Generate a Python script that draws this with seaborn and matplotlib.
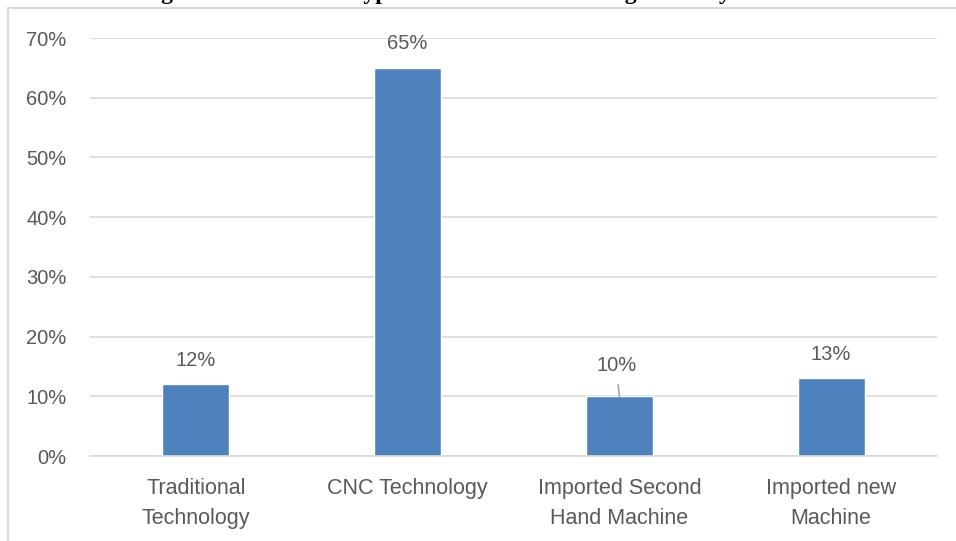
import matplotlib
matplotlib.use("Agg")
import matplotlib.pyplot as plt
import seaborn as sns
import pandas as pd
from matplotlib.patches import Rectangle

categories = ["Traditional\nTechnology", "CNC Technology",
              "Imported Second\nHand Machine", "Imported new\nMachine"]
shares = [12, 65, 10, 13]
y_ticks = [0, 10, 20, 30, 40, 50, 60, 70]
y_tick_labels = ["0%", "10%", "20%", "30%", "40%", "50%", "60%", "70%"]
title_text = "Figure 4.2: Machine Type used in Manufacturing Industry"

df = pd.DataFrame({"category": categories, "share": shares})

sns.set_theme(style="white")
plt.rcParams["font.family"] = ["Liberation Sans", "DejaVu Sans"]

W, H = 956, 541
fig = plt.figure(figsize=(W / 100, H / 100), dpi=100)
fig.patch.set_facecolor("white")

# chart frame
fig.patches.append(Rectangle((8 / W, -0.1), 1.2, (H - 8) / H + 0.1,
                             transform=fig.transFigure, fill=False,
                             edgecolor="#D9D9D9", linewidth=1.5))

ax = fig.add_axes([90 / W, (H - 456) / H, (937 - 90) / W, (456 - 38) / H])
sns.barplot(data=df, x="category", y="share", color="#4F81BD",
            saturation=1, width=0.316, ax=ax)

ax.set_ylim(0, 70)
ax.set_yticks(y_ticks)
ax.set_yticklabels(y_tick_labels)
ax.yaxis.grid(True, color="#D9D9D9", linewidth=1.2)
ax.set_axisbelow(True)
for s in ax.spines.values():
    s.set_visible(False)
ax.spines["bottom"].set_visible(True)
ax.spines["bottom"].set_color("#D9D9D9")
ax.spines["bottom"].set_linewidth(1.2)
ax.set_xlabel("")
ax.set_ylabel("")
ax.tick_params(axis="y", length=0, pad=17, labelsize=14.5, labelcolor="#595959")
ax.tick_params(axis="x", length=0, pad=15.5, labelsize=15.5, labelcolor="#595959")
for lbl in ax.get_xticklabels():
    lbl.set_linespacing(1.6)

# value labels
for i, v in enumerate(shares):
    if v == 10:
        ax.annotate(f"{v}%", xy=(i, v), xytext=(i - 0.015, v + 5.2),
                    ha="center", va="center", fontsize=14.5, color="#595959",
                    arrowprops=dict(arrowstyle="-", color="#A6A6A6", lw=1.2,
                                    shrinkA=5, shrinkB=0))
    else:
        ax.text(i, v + 4.0, f"{v}%", ha="center", va="center",
                fontsize=14.5, color="#595959")

# title, mostly above the visible frame
fig.text(140 / W, 1 + 1 / H, title_text, ha="left", va="baseline",
         fontsize=17, fontweight="bold", family=["Liberation Serif"],
         color="black")

fig.savefig("out.png", dpi=100)
